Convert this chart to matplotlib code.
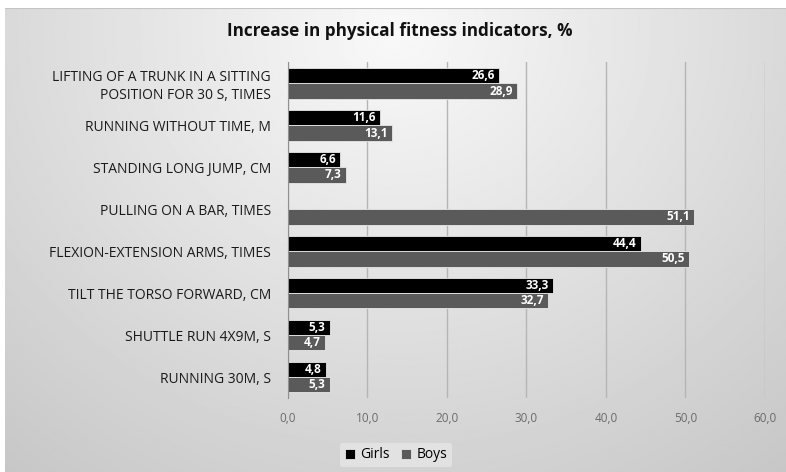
import matplotlib.pyplot as plt
import numpy as np

# fitness indicators, top to bottom
categories = [
    "LIFTING OF A TRUNK IN A SITTING\nPOSITION FOR 30 S, TIMES",
    "RUNNING WITHOUT TIME, M",
    "STANDING LONG JUMP, CM",
    "PULLING ON A BAR, TIMES",
    "FLEXION-EXTENSION ARMS, TIMES",
    "TILT THE TORSO FORWARD, CM",
    "SHUTTLE RUN 4X9M, S",
    "RUNNING 30M, S",
]
girls = [26.6, 11.6, 6.6, np.nan, 44.4, 33.3, 5.3, 4.8]
boys = [28.9, 13.1, 7.3, 51.1, 50.5, 32.7, 4.7, 5.3]
x_ticks = [0, 10, 20, 30, 40, 50, 60]

plt.rcParams['font.family'] = ['Open Sans', 'DejaVu Sans']

W, H = 786, 472
fig = plt.figure(figsize=(W / 100, H / 100), dpi=100, facecolor='white')

# soft radial shading behind the chart
bg = fig.add_axes([5 / W, 0, 1 - 5 / W, 1 - 8 / H], zorder=-10)
yy, xx = np.mgrid[0:1:300j, 0:1:500j]
r = np.sqrt(((xx - 0.5) / 0.65) ** 2 + ((yy - 0.05) / 1.0) ** 2)
shade = np.clip(0.975 - 0.16 * r, 0, 1)
bg.imshow(shade, cmap='gray', vmin=0, vmax=1, aspect='auto', interpolation='bilinear')
bg.axhline(-0.5, color='#c4c4c4', lw=1.5)
bg.set_axis_off()

ax = fig.add_axes([287.5 / W, 1 - 398 / H, (765 - 287.5) / W, (398 - 62.5) / H])
ax.patch.set_alpha(0)

y = np.arange(len(categories))
h = 0.365
gb = ax.barh(y - h / 2, girls, height=h, color='black', edgecolor='#e8e8e8', linewidth=0.6,
             label='Girls', zorder=3)
bb = ax.barh(y + h / 2, boys, height=h, color='#5a5a5a', edgecolor='#e8e8e8', linewidth=0.6,
             label='Boys', zorder=3)

for bars, vals in ((gb, girls), (bb, boys)):
    for rect, v in zip(bars, vals):
        if np.isnan(v):
            continue
        ax.annotate(f"{v:.1f}".replace('.', ','),
                    (v, rect.get_y() + rect.get_height() / 2),
                    xytext=(-3, 0), textcoords='offset points',
                    ha='right', va='center', color='white', fontsize=8.5,
                    fontweight='bold', zorder=4)

ax.set_xlim(0, 60)
ax.set_ylim(len(categories) - 0.5, -0.5)
ax.set_xticks(x_ticks)
ax.set_xticklabels([f"{t:.1f}".replace('.', ',') for t in x_ticks], color='#6b6b6b', fontsize=8.5)
ax.set_yticks(y)
ax.set_yticklabels(categories, fontsize=10, color='#1a1a1a', linespacing=1.2)
ax.tick_params(axis='both', length=0)
ax.tick_params(axis='x', pad=10)
ax.tick_params(axis='y', pad=12)
ax.grid(axis='x', color='#b5b5b5', linewidth=1, zorder=0)
for s in ('top', 'right', 'bottom'):
    ax.spines[s].set_visible(False)
ax.spines['left'].set_color('#909090')
ax.spines['left'].set_zorder(5)

fig.text(400 / W, 1 - 31 / H, "Increase in physical fitness indicators, %",
         ha='center', va='center', fontsize=12.3, fontweight='bold', color='#111111')

leg = fig.legend(handles=[gb, bb], loc='center', bbox_to_anchor=(396 / W, 1 - 455 / H),
                 ncol=2, frameon=True, fontsize=10, handlelength=0.7, handleheight=0.7,
                 handletextpad=0.4, columnspacing=0.8, borderpad=0.35)
leg.get_frame().set_facecolor('#e6e6e6')
leg.get_frame().set_edgecolor('none')
leg.get_frame().set_alpha(0.8)

fig.savefig('out.png', dpi=100, facecolor='white')
